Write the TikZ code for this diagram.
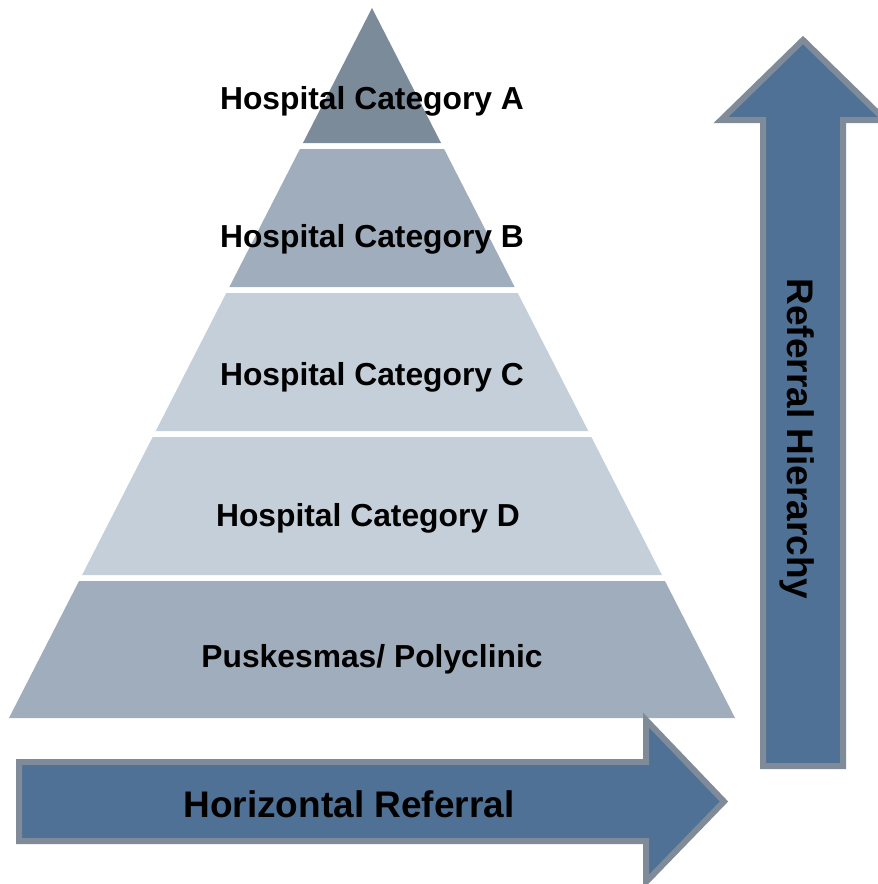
\documentclass[tikz,border=0pt]{standalone}
\usepackage{fontspec}
\setmainfont{Liberation Sans}
\definecolor{layerA}{HTML}{7B8B9A}
\definecolor{layerB}{HTML}{A0ADBC}
\definecolor{layerC}{HTML}{C4CFDA}
\definecolor{arrowfill}{HTML}{4F7195}
\definecolor{arrowline}{HTML}{7F8B98}
\begin{document}
\begin{tikzpicture}[x=1pt,y=-1pt,
  layer/.style={draw=none},
  lbl/.style={font=\bfseries\fontsize{31.8}{36}\selectfont, text=black, inner sep=0pt},
  biglbl/.style={font=\bfseries\fontsize{37}{42}\selectfont, text=black, inner sep=0pt},
  bigarrow/.style={fill=arrowfill, draw=arrowline, line width=6pt, line join=miter}]
\useasboundingbox (0,0) rectangle (878,884);
% pyramid: x_left(y) = 372 - 0.5113 (y-8)
\def\xl#1{\fpeval{372-0.5113*(#1-8)}}
\def\xr#1{\fpeval{372+0.5113*(#1-8)}}
\fill[layerA] (372,8) -- (\xr{143},143) -- (\xl{143},143) -- cycle;
\fill[layerB] (\xl{149},149) -- (\xr{149},149) -- (\xr{287},287) -- (\xl{287},287) -- cycle;
\fill[layerC] (\xl{293},293) -- (\xr{293},293) -- (\xr{431},431) -- (\xl{431},431) -- cycle;
\fill[layerC] (\xl{437},437) -- (\xr{437},437) -- (\xr{575},575) -- (\xl{575},575) -- cycle;
\fill[layerB] (\xl{581},581) -- (\xr{581},581) -- (\xr{718},718) -- (\xl{718},718) -- cycle;
\node[lbl] (la) at (372,101) {Hospital Category A};
\node[lbl] (lb) at (372,239) {Hospital Category B};
\node[lbl] (lc) at (372,377) {Hospital Category C};
\node[lbl] (ld) at (368,518) {Hospital Category D};
\node[lbl] (le) at (372,659) {Puskesmas/ Polyclinic};
% horizontal arrow
\draw[bigarrow] (19,762) -- (646,762) -- (646,720) -- (724,801.5) -- (646,882) -- (646,841) -- (19,841) -- cycle;
\node[biglbl] (hr) at (349,804) {Horizontal Referral};
% vertical arrow
\draw[bigarrow] (763,766) -- (763,120) -- (721,120) -- (803,40) -- (885,120) -- (843,120) -- (843,766) -- cycle;
\node[biglbl, rotate=-90] (vh) at (797,439) {Referral Hierarchy};
\end{tikzpicture}
\end{document}
